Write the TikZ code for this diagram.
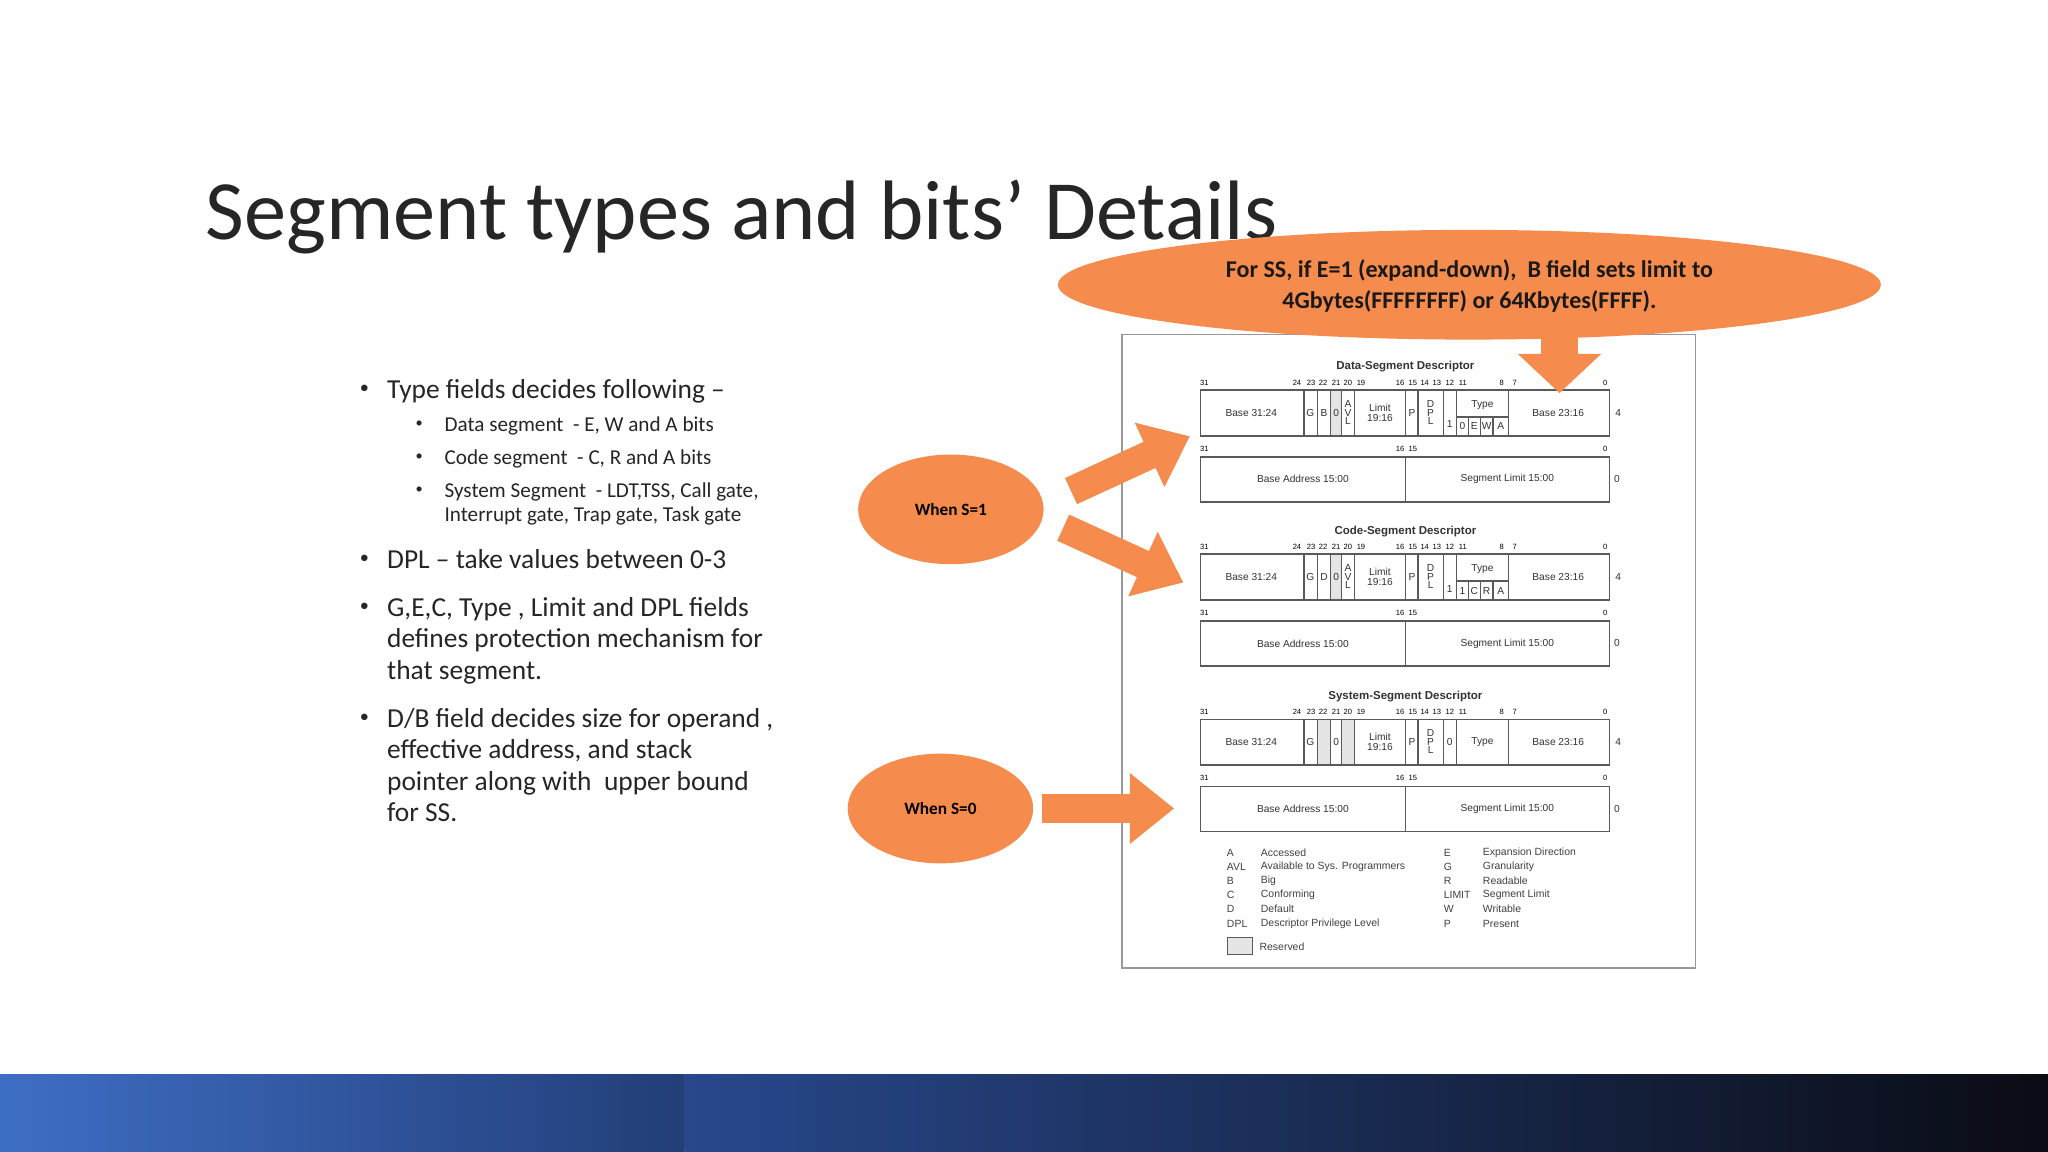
\documentclass[tikz,border=0pt]{standalone}
\usepackage{fontspec}
\setmainfont{Carlito}
\newfontfamily\arial{Liberation Sans}
\usetikzlibrary{arrows.meta,shapes.geometric}
\definecolor{org}{HTML}{F58B4C}
\definecolor{dg}{HTML}{5A5A5A}
\tikzset{
 bit/.style={font=\arial\fontsize{2.9}{3}\selectfont,inner sep=0},
 lab/.style={font=\arial\fontsize{3.9}{4.2}\selectfont,inner sep=0,align=center,text=black!80},
 dtitle/.style={font=\arial\bfseries\fontsize{4.4}{5}\selectfont,inner sep=0,text=black!80},
 dl/.style={dg,line width=0.5pt},
 blob/.style={ellipse,fill=org,inner sep=0},
 bigarrow/.style={org,line width=11pt,-{Triangle[length=17pt,width=26pt]}},
 bul/.style={font=\fontsize{10.5}{12}\selectfont,anchor=north west,inner sep=0,align=left,text=black!85},
 sbul/.style={font=\fontsize{8.1}{9.5}\selectfont,anchor=north west,inner sep=0,align=left,text=black!85},
 dot/.style={font=\fontsize{7}{8}\selectfont,inner sep=0,text=black!85},
 leg/.style={font=\arial\fontsize{4}{4.5}\selectfont,anchor=west,inner sep=0,text=black!75}
}
\newcommand\bitnums[1]{\foreach \x/\t in {922/31,993/24,1003.8/23,1013/22,1023/21,1032/20,1042/19,1072/16,1081.7/15,1090.8/14,1100/13,1110/12,1120/11,1149.8/8,1159.7/7,1229/0} \node[bit] at (\x,#1) {\t};}
\newcommand\descframe{%
 \bitnums{293.3}
 \draw[dl] (919,298.6) rectangle (1232,333.8);
 \foreach \x in {997.8,998.7,1008.6,1018.8,1027.3,1036.9,1076.1,1085.7,1105,1154.9} \draw[dl] (\x,298.6)--(\x,333.8);
 \node[lab] at (958,316) {Base 31:24};
 \node[lab] at (1056.5,316) {Limit\\[-0.6pt]19:16};
 \node[lab] at (1081,316) {P};
 \node[lab] at (1095.3,309.5) {D};\node[lab] at (1095.3,316) {P};\node[lab] at (1095.3,322.5) {L};
 \node[lab] at (1193,316) {Base 23:16};
 \node[lab] at (1239,316) {4};
 \foreach \x/\t in {922/31,1072/16,1081.7/15,1229/0} \node[bit] at (\x,343.8) {\t};
 \draw[dl] (919,349.9) rectangle (1232,384.4);
 \draw[dl] (1076.1,349.9)--(1076.1,384.4);
 \node[lab] at (997.5,367) {Base Address 15:00};
 \node[lab] at (1154,367) {Segment Limit 15:00};
 \node[lab] at (1238,367) {0};
}
\newcommand\typebox[4]{%
 \draw[dl] (1115.2,298.6)--(1115.2,333.8);
 \draw[dl] (1115.2,319.3)--(1154.9,319.3);
 \foreach \x in {1124.3,1133.3,1143} \draw[dl] (\x,319.3)--(\x,333.8);
 \node[lab] at (1135,310) {Type};
 \node[lab] at (1119.7,326.5) {#1};\node[lab] at (1128.8,326.5) {#2};
 \node[lab] at (1138.2,326.5) {#3};\node[lab] at (1149,326.5) {#4};
 \node[lab] at (1110,325) {1};
 \node[lab] at (1032,309.5) {A};\node[lab] at (1032,316) {V};\node[lab] at (1032,322.5) {L};
}
\begin{document}
\begin{tikzpicture}[x=0.5pt,y=-0.5pt]
\useasboundingbox (0,0) rectangle (1568,882);
\fill[white] (0,0) rectangle (1568,882);
% bottom band
\shade[left color={rgb,255:red,62;green,110;blue,196}, right color={rgb,255:red,35;green,62;blue,120}] (0,823) rectangle (524,882);
\shade[left color={rgb,255:red,40;green,72;blue,140}, right color={rgb,255:red,10;green,12;blue,20}] (524,823) rectangle (1568,882);
% title
\node[anchor=base west,inner sep=0,font=\fontsize{32.3}{36}\selectfont,text=black!85] (title) at (157,183) {Segment types and bits’ Details};
% bullets
\node[dot] (b1d) at (279,298) {•};
\node[bul] (b1) at (296,290) {Type fields decides following –};
\foreach \y/\t [count=\i] in {319/{Data segment\ \ - E, W and A bits},344/{Code segment\ \ - C, R and A bits},369/{System Segment\ \ - LDT,TSS, Call gate,\\Interrupt gate, Trap gate, Task gate}} {
 \node[dot,font=\fontsize{5.5}{6}\selectfont] (sd\i) at (321,\y+6) {•};
 \node[sbul] (s\i) at (340,\y) {\t};}
\node[dot] (b2d) at (279,428) {•};
\node[bul] (b2) at (296,420) {DPL – take values between 0-3};
\node[dot] (b3d) at (279,465) {•};
\node[bul] (b3) at (296,457) {G,E,C, Type , Limit and DPL fields\\defines protection mechanism for\\that segment.};
\node[dot] (b4d) at (279,550) {•};
\node[bul] (b4) at (296,542) {D/B field decides size for operand ,\\effective address, and stack\\pointer along with\ \ upper bound\\for SS.};
% frame
\draw[gray!80,line width=0.6pt] (859,256) rectangle (1298,741);
% data
\node[dtitle] (t1) at (1076,281) {Data-Segment Descriptor};
\fill[gray!20] (1018.8,298.6) rectangle (1027.3,333.8);
\descframe
\typebox{0}{E}{W}{A}
\node[lab] at (1003.2,316) {G};\node[lab] at (1013.7,316) {B};\node[lab] at (1023,316) {0};
% code
\begin{scope}[shift={(0,125.6)}]
\node[dtitle] (t2) at (1076,281) {Code-Segment Descriptor};
\fill[gray!20] (1018.8,298.6) rectangle (1027.3,333.8);
\descframe
\typebox{1}{C}{R}{A}
\node[lab] at (1003.2,316) {G};\node[lab] at (1013.7,316) {D};\node[lab] at (1023,316) {0};
\end{scope}
% system
\begin{scope}[shift={(0,252)}]
\node[dtitle] (t3) at (1076,281) {System-Segment Descriptor};
\fill[gray!20] (1008.6,298.6) rectangle (1018.8,333.8);
\fill[gray!20] (1027.3,298.6) rectangle (1036.9,333.8);
\descframe
\draw[dl] (1115.2,298.6)--(1115.2,333.8);
\node[lab] at (1135,316) {Type};
\node[lab] at (1110,316) {0};
\node[lab] at (1003.2,316) {G};\node[lab] at (1023,316) {0};
\end{scope}
% legend
\foreach \y/\a/\b/\c/\d in {653/A/Accessed/E/Expansion Direction,664/AVL/Available to Sys. Programmers/G/Granularity,674.6/B/Big/R/Readable,685/C/Conforming/LIMIT/Segment Limit,696/D/Default/W/Writable,707.5/DPL/Descriptor Privilege Level/P/Present}{
 \node[leg] at (939,\y) {\a};\node[leg] at (965,\y) {\b};
 \node[leg] at (1105,\y) {\c};\node[leg] at (1135,\y) {\d};}
\draw[dl,fill=gray!20] (940,718) rectangle (959,731);
\node[leg] (res) at (964,725) {Reserved};
% orange callouts
\node[blob,minimum width=315pt,minimum height=42pt] (top) at (1125,218) {};
\node[font=\bfseries\fontsize{9.2}{11.8}\selectfont,align=center,text=black!90] at (1125,219) {For SS, if E=1 (expand-down),\ \ B field sets limit to\\4Gbytes(FFFFFFFF) or 64Kbytes(FFFF).};
\coordinate (dn1) at (1194,255);
\coordinate (dn2) at (1194,301);
\draw[org,line width=14pt,-{Triangle[length=15pt,width=31pt]}] (dn1)--(dn2);
\node[blob,minimum width=71pt,minimum height=42pt,font=\bfseries\fontsize{6.6}{8}\selectfont] (s1) at (728,390) {When S=1};
\node[blob,minimum width=71pt,minimum height=42pt,font=\bfseries\fontsize{6.6}{8}\selectfont] (s0) at (720,619) {When S=0};
\coordinate (a1s) at (820,376);
\coordinate (a1e) at (911,334);
\coordinate (a2s) at (814,404);
\coordinate (a2e) at (906,446);
\coordinate (a3s) at (798,619);
\coordinate (a3e) at (899,619);
\draw[bigarrow] (a1s)--(a1e);
\draw[bigarrow] (a2s)--(a2e);
\draw[bigarrow] (a3s)--(a3e);
\end{tikzpicture}
\end{document}
